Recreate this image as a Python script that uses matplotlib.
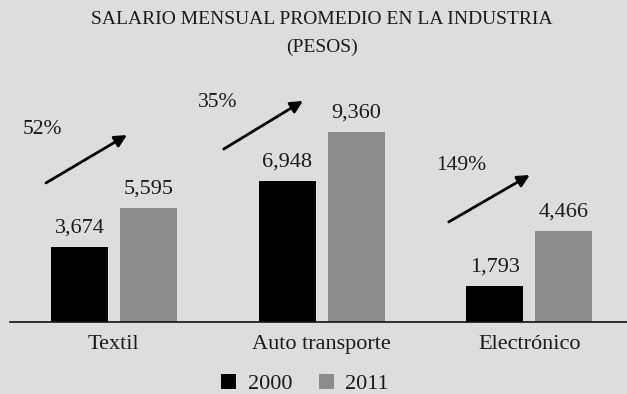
import matplotlib
matplotlib.use("Agg")
import matplotlib.pyplot as plt
import numpy as np
from matplotlib.patches import Patch

# Data
categories = ["Textil", "Auto transporte", "Electrónico"]
years = ["2000", "2011"]
salary_2000 = [3674, 6948, 1793]
salary_2011 = [5595, 9360, 4466]

title = "SALARIO MENSUAL PROMEDIO EN LA INDUSTRIA\n(PESOS)"

# Style
bg = "#dcdddf"
col_2000 = "#000000"
col_2011 = "#8b8c8e"
txt = "#1a1a1a"
serif = ["Liberation Serif", "DejaVu Serif"]
plt.rcParams["font.family"] = serif

fig = plt.figure(figsize=(6.27, 3.94), dpi=100, facecolor=bg)
W, H = 627, 394
px_per_unit = 0.0203
ymax = 13000
base_px = 322
ax_h = ymax * px_per_unit
ax = fig.add_axes([10 / W, (H - base_px) / H, 617 / W, ax_h / H])
ax.set_facecolor(bg)

x = np.arange(len(categories))
bw = 0.274
off = 0.166
b1 = ax.bar(x - off, salary_2000, bw, color=col_2000, label=years[0])
b2 = ax.bar(x + off, salary_2011, bw, color=col_2011, label=years[1])

ax.set_xlim(-0.5, 2.47)
ax.set_ylim(0, ymax)
for s in ["top", "right", "left"]:
    ax.spines[s].set_visible(False)
ax.spines["bottom"].set_linewidth(1.2)
ax.spines["bottom"].set_color("#111111")
ax.set_yticks([])
ax.set_xticks(x)
ax.set_xticklabels(categories, fontsize=16, color=txt)
ax.tick_params(axis="x", length=0, pad=9.6)

# Value labels above each bar
for bars, vals in ((b1, salary_2000), (b2, salary_2011)):
    for rect, v in zip(bars, vals):
        ax.annotate(f"{v:,}", (rect.get_x() + rect.get_width() / 2, v),
                    xytext=(0, 13.7), textcoords="offset points",
                    ha="center", va="center", fontsize=16, color=txt)

# Growth arrows with percentage change
arrow_tail = [(-0.327, 6850), (0.529, 8520), (1.612, 4930)]
arrow_tip = [(0.063, 9210), (0.910, 10890), (2.002, 7240)]
pct_pos = [(-0.344, 9460), (0.501, 10790), (1.670, 7730)]
for i in range(len(categories)):
    pct = (salary_2011[i] / salary_2000[i] - 1) * 100
    ax.annotate("", xy=arrow_tip[i], xytext=arrow_tail[i],
                arrowprops=dict(arrowstyle="-|>", color="black", lw=2.0,
                                mutation_scale=18, shrinkA=0, shrinkB=0))
    ax.text(pct_pos[i][0], pct_pos[i][1], f"{pct:.0f}%", ha="center",
            va="center", fontsize=15.5, color=txt)

fig.text(322 / W, 1 - 33.5 / H, title, ha="center", va="center",
         fontsize=14, color=txt, linespacing=1.85)

handles = [Patch(facecolor=col_2000), Patch(facecolor=col_2011)]
fig.legend(handles, years, loc="center", bbox_to_anchor=(305 / W, 10 / H),
           ncol=2, frameon=False, fontsize=16, handlelength=0.68,
           handleheight=0.68, handletextpad=0.5, columnspacing=1.2,
           labelcolor=txt, borderpad=0)

fig.savefig("out.png", dpi=100, facecolor=bg)
